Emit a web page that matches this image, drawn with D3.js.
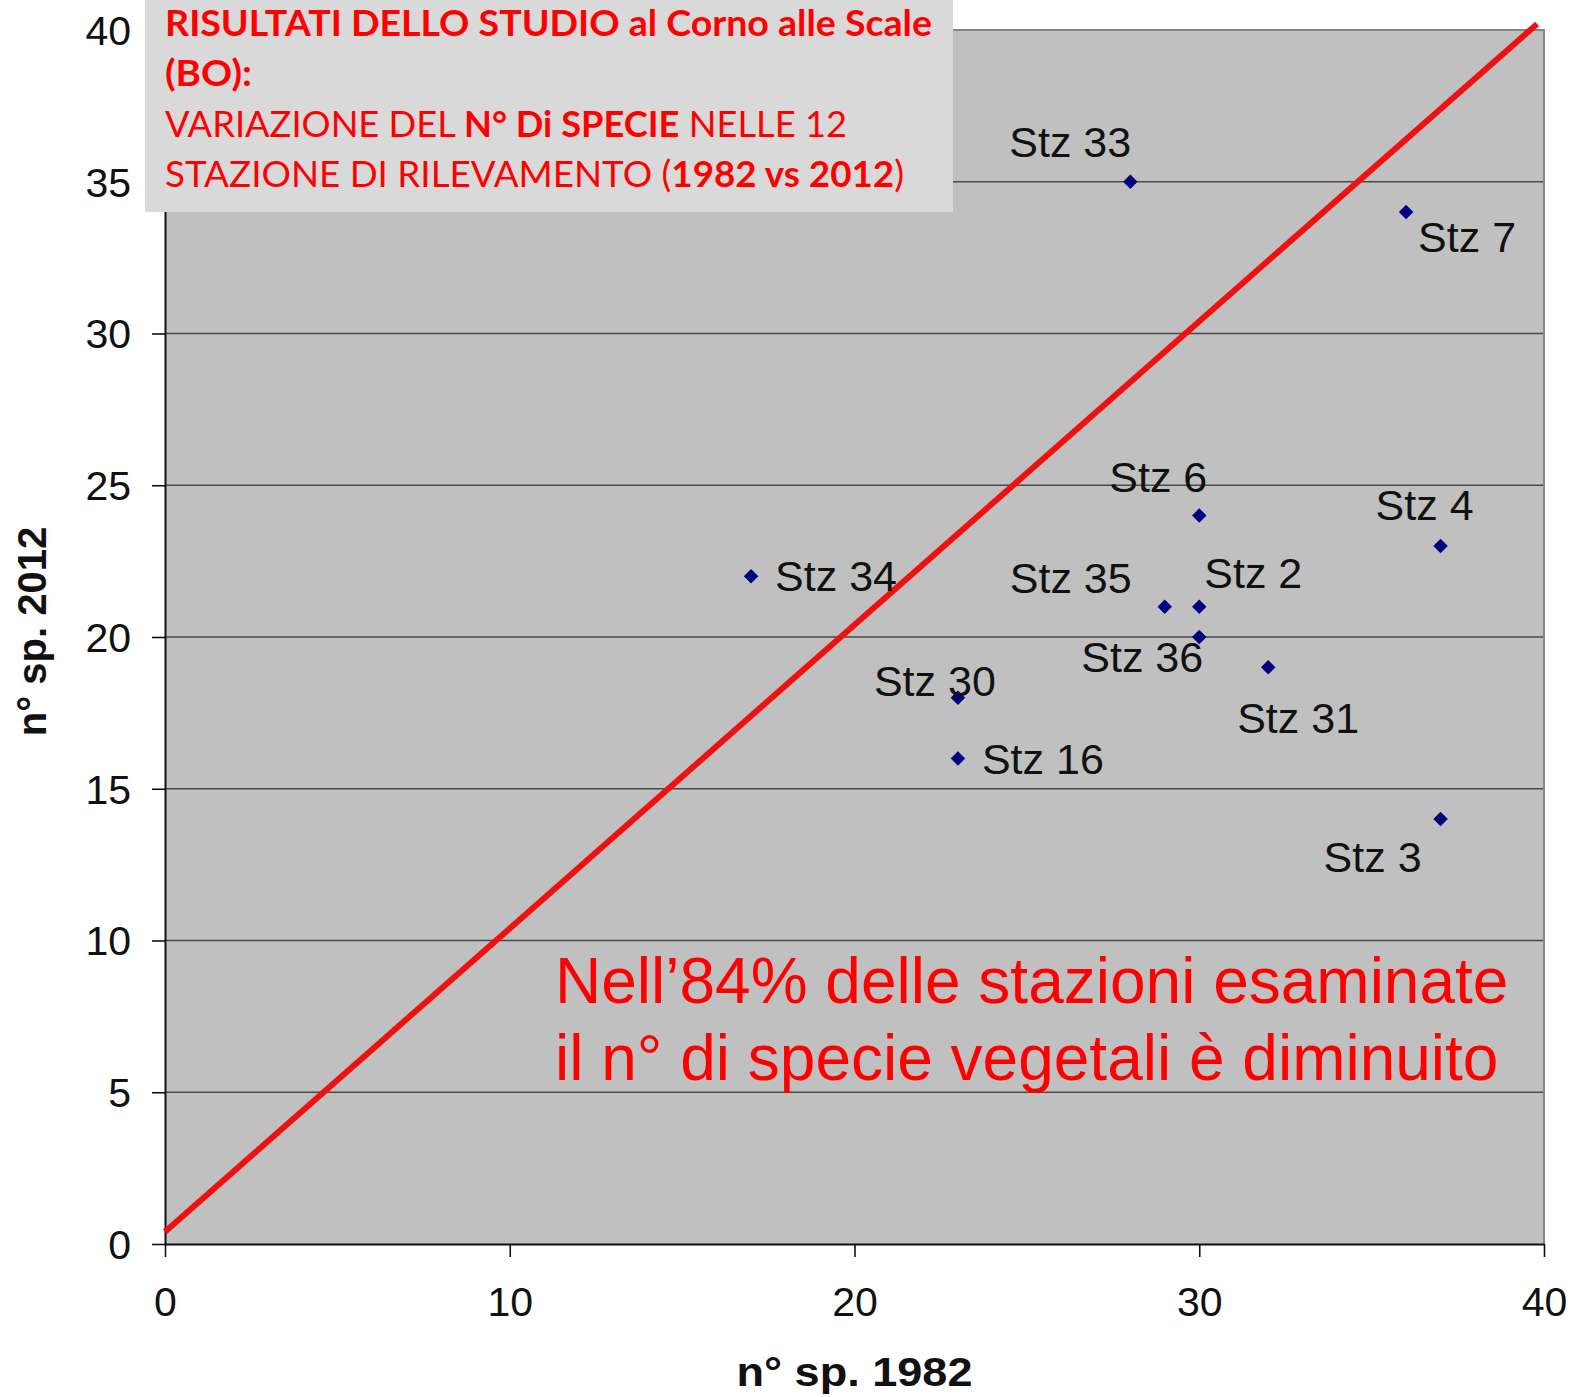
<!DOCTYPE html>
<html>
<head>
<meta charset="utf-8">
<script src="https://cdn.jsdelivr.net/npm/d3@7"></script>
<style>
  html, body { margin: 0; padding: 0; background: #fff; }
  svg { display: block; }
</style>
</head>
<body>
<script>
// Stations and species counts (1982 vs 2012)
const stations = ["Stz 33", "Stz 7", "Stz 6", "Stz 4", "Stz 34", "Stz 35", "Stz 2", "Stz 36", "Stz 31", "Stz 30", "Stz 16", "Stz 3"];
const sp1982   = [28, 36, 30, 37, 17, 29, 30, 30, 32, 23, 23, 37];
const sp2012   = [35, 34, 24, 23, 22, 21, 21, 20, 19, 18, 16, 14];

// Reference line (no change between the two surveys)
const refLineX = [0, 39.8];
const refLineY = [0.4, 40.2];

const xTicks = [0, 10, 20, 30, 40];
const yTicks = [0, 5, 10, 15, 20, 25, 30, 35, 40];

const xTitle = "n° sp. 1982";
const yTitle = "n° sp. 2012";

// Header lines: each is a list of [text, bold]
const headerLines = [
  [["RISULTATI DELLO STUDIO al Corno alle Scale", true]],
  [["(BO):", true]],
  [["VARIAZIONE DEL ", false], ["N° Di SPECIE", true], [" NELLE 12", false]],
  [["STAZIONE DI RILEVAMENTO (", false], ["1982 vs 2012", true], [")", false]]
];
const noteLines = ["Nell’84% delle stazioni esaminate", "il n° di specie vegetali è diminuito"];

// Label placement around each marker (layout only)
const labelOffset = {
  "Stz 33": [-121, -25], "Stz 7": [12, 40], "Stz 6": [-90, -24], "Stz 4": [-65, -26],
  "Stz 34": [24, 15], "Stz 35": [-155, -14], "Stz 2": [5, -19], "Stz 36": [-118, 35],
  "Stz 31": [-31, 66], "Stz 30": [-84, -2], "Stz 16": [24, 16], "Stz 3": [-117, 53]
};

const W = 1575, H = 1397;
const plot = { left: 165, right: 1544, top: 30, bottom: 1244 };

const svg = d3.select("body").append("svg").attr("width", W).attr("height", H)
  .style("font-family", "'Liberation Sans', Arial, sans-serif");

const x = d3.scaleLinear().domain([0, 40]).range([plot.left, plot.right]);
const y = d3.scaleLinear().domain([0, 40]).range([plot.bottom, plot.top]);

// Plot background
svg.append("rect")
  .attr("x", plot.left).attr("y", plot.top)
  .attr("width", plot.right - plot.left).attr("height", plot.bottom - plot.top)
  .attr("fill", "#c0c0c0");

// Horizontal gridlines
svg.append("g")
  .selectAll("line")
  .data(yTicks.filter(v => v > 0 && v < 40))
  .join("line")
  .attr("x1", plot.left).attr("x2", plot.right)
  .attr("y1", d => y(d)).attr("y2", d => y(d))
  .attr("stroke", "#4a4a4a").attr("stroke-width", 1.6);

// Top and right frame
svg.append("path")
  .attr("d", `M${plot.left},${plot.top}H${plot.right}V${plot.bottom}`)
  .attr("fill", "none").attr("stroke", "#858585").attr("stroke-width", 2);

// Axes
const xAxis = svg.append("g")
  .attr("transform", `translate(0,${plot.bottom})`)
  .call(d3.axisBottom(x).tickValues(xTicks).tickSize(13).tickPadding(30).tickSizeOuter(0));
const yAxis = svg.append("g")
  .attr("transform", `translate(${plot.left},0)`)
  .call(d3.axisLeft(y).tickValues(yTicks).tickSize(13).tickPadding(21).tickSizeOuter(0));

[xAxis, yAxis].forEach(g => {
  g.select(".domain").attr("stroke", "#111").attr("stroke-width", 2);
  g.selectAll(".tick line").attr("stroke", "#111").attr("stroke-width", 1.6);
  g.selectAll(".tick text")
    .attr("fill", "#111")
    .style("font-family", "'Liberation Sans', Arial, sans-serif")
    .style("font-size", "41px");
});
xAxis.selectAll(".tick text").attr("dy", "0.71em");
yAxis.selectAll(".tick text").attr("dy", "0.35em");

// Reference line y = x
svg.append("line")
  .attr("x1", x(refLineX[0])).attr("y1", y(refLineY[0]))
  .attr("x2", x(refLineX[1])).attr("y2", y(refLineY[1]))
  .attr("stroke", "#f01010").attr("stroke-width", 6).attr("stroke-linecap", "butt");

// Station markers
const pts = stations.map((s, i) => ({ name: s, a: sp1982[i], b: sp2012[i] }));
svg.append("g")
  .selectAll("path")
  .data(pts)
  .join("path")
  .attr("d", d3.symbol(d3.symbolSquare, 105))
  .attr("transform", d => `translate(${x(d.a)},${y(d.b)}) rotate(45)`)
  .attr("fill", "#000080");

// Station labels
svg.append("g")
  .selectAll("text")
  .data(pts)
  .join("text")
  .attr("x", d => x(d.a) + labelOffset[d.name][0])
  .attr("y", d => y(d.b) + labelOffset[d.name][1])
  .attr("fill", "#111")
  .style("font-size", "43px")
  .text(d => d.name);

// Axis titles
svg.append("text")
  .attr("x", (plot.left + plot.right) / 2 + 0).attr("y", 1386)
  .attr("text-anchor", "middle")
  .attr("textLength", 236).attr("lengthAdjust", "spacingAndGlyphs")
  .style("font-size", "40px").style("font-weight", "bold").attr("fill", "#111")
  .text(xTitle);

svg.append("text")
  .attr("transform", `translate(46,${(530 + 733) / 2}) rotate(-90)`)
  .attr("text-anchor", "middle")
  .style("font-size", "40px").style("font-weight", "bold").attr("fill", "#111")
  .text(yTitle);

// Header box
svg.append("rect")
  .attr("x", 145).attr("y", 0).attr("width", 808).attr("height", 212)
  .attr("fill", "#d9d9d9");

const headerBaselines = [36, 86, 137, 187];
const headerWidths = [767, 87, 682, 739];
headerLines.forEach((parts, i) => {
  const t = svg.append("text")
    .attr("x", 165).attr("y", headerBaselines[i])
    .attr("textLength", headerWidths[i]).attr("lengthAdjust", "spacingAndGlyphs")
    .attr("fill", "#ff0000")
    .style("font-family", "Lato, 'Open Sans', sans-serif")
    .style("font-size", "36px");
  parts.forEach(([txt, bold]) => {
    t.append("tspan").style("font-weight", bold ? "bold" : "normal").text(txt);
  });
});

// Summary note
svg.append("g")
  .selectAll("text")
  .data(noteLines)
  .join("text")
  .attr("x", 555)
  .attr("y", (d, i) => 1003 + i * 77)
  .attr("fill", "#ff0000")
  .style("font-size", "64px")
  .text(d => d);
</script>
</body>
</html>
